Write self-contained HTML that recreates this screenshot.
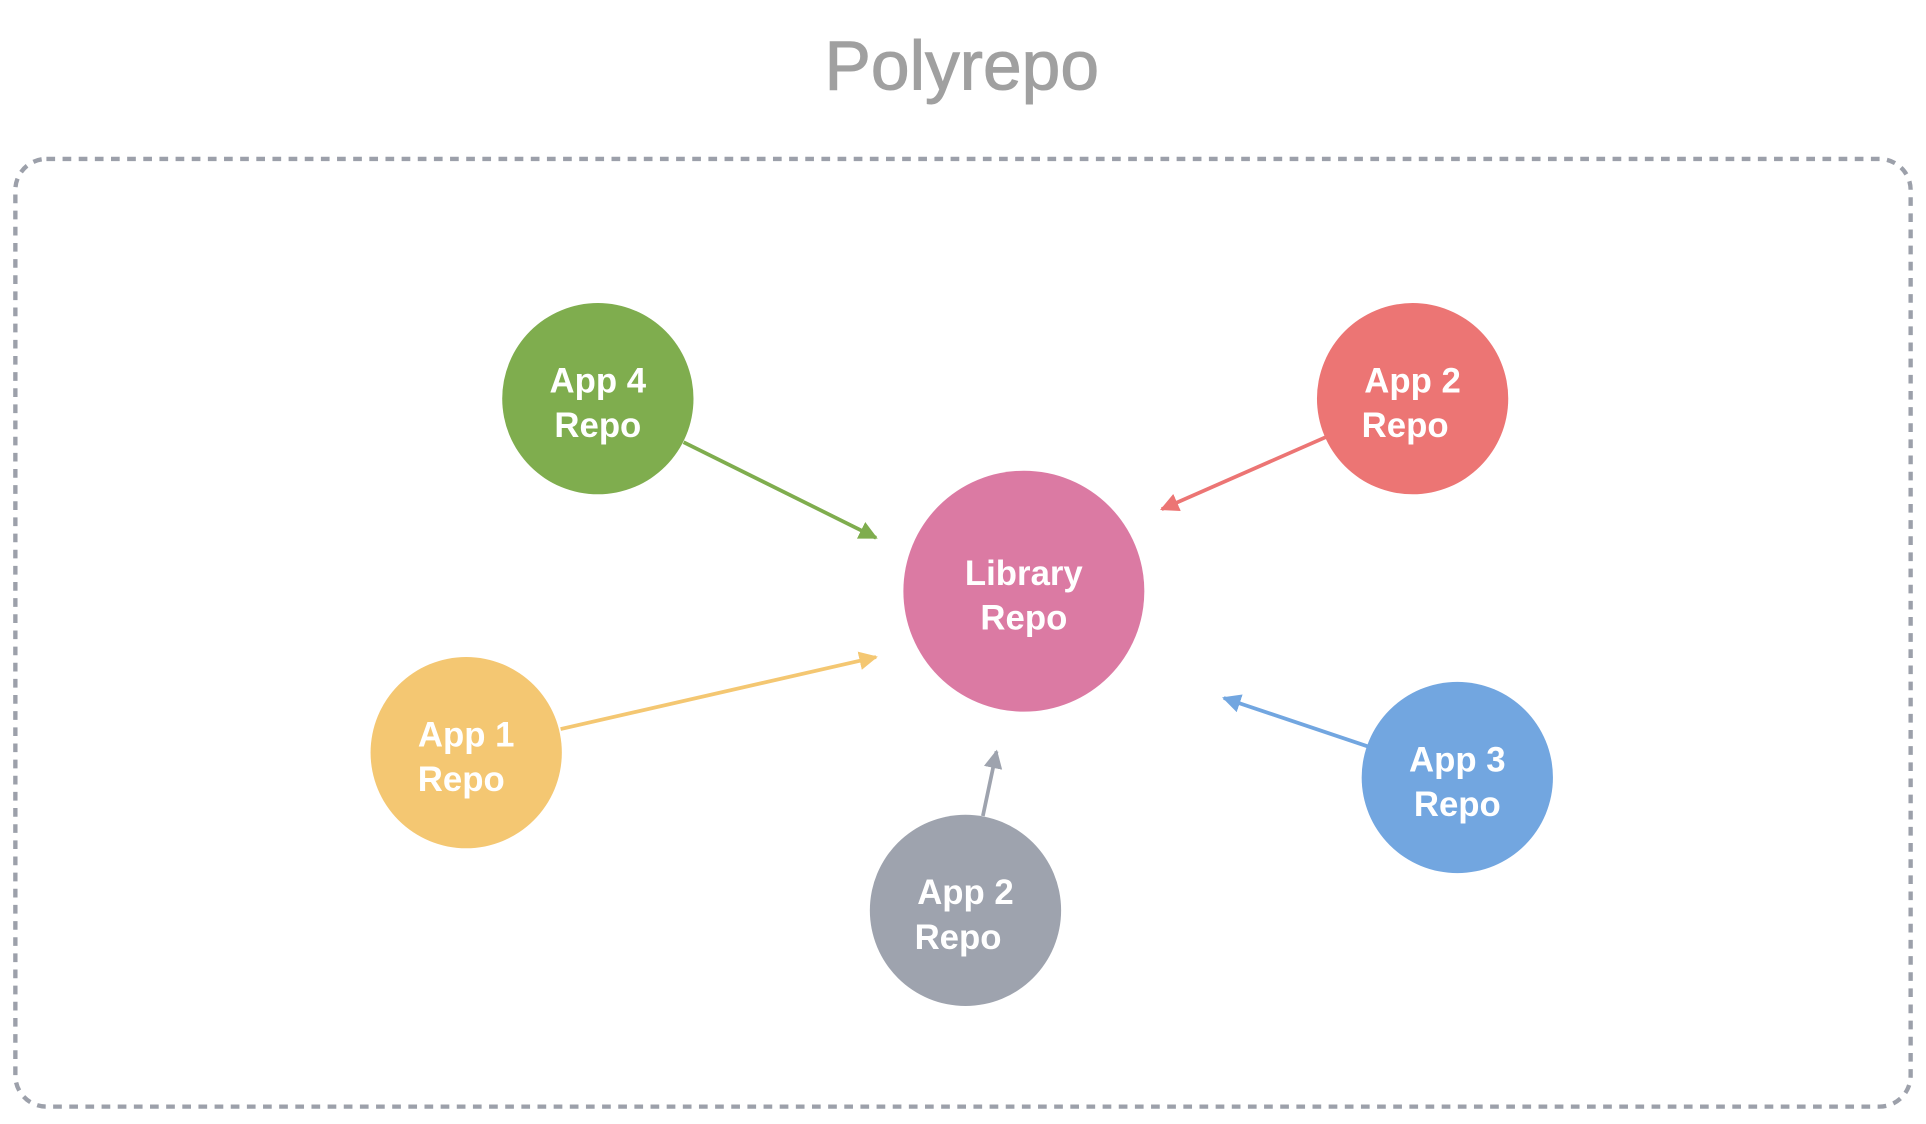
<!DOCTYPE html>
<html><head><style>html,body{margin:0;padding:0;background:#fff;}svg{display:block}</style></head>
<body>
<svg width="1926" height="1124" viewBox="0 0 1550 905" xmlns="http://www.w3.org/2000/svg" font-family="Liberation Sans, sans-serif">
<defs>
<marker id="g" viewBox="0 0 10 10" refX="9" refY="5" markerWidth="5" markerHeight="5" orient="auto"><path d="M0,0L10,5L0,10z" fill="#7fad4e"/></marker>
<marker id="r" viewBox="0 0 10 10" refX="9" refY="5" markerWidth="5" markerHeight="5" orient="auto"><path d="M0,0L10,5L0,10z" fill="#ec7574"/></marker>
<marker id="y" viewBox="0 0 10 10" refX="9" refY="5" markerWidth="5" markerHeight="5" orient="auto"><path d="M0,0L10,5L0,10z" fill="#f4c772"/></marker>
<marker id="k" viewBox="0 0 10 10" refX="9" refY="5" markerWidth="5" markerHeight="5" orient="auto"><path d="M0,0L10,5L0,10z" fill="#9ea3ae"/></marker>
<marker id="b" viewBox="0 0 10 10" refX="9" refY="5" markerWidth="5" markerHeight="5" orient="auto"><path d="M0,0L10,5L0,10z" fill="#72a6e0"/></marker>
</defs>
<text x="774" y="72" text-anchor="middle" font-size="56" fill="#a0a0a0" stroke="#a0a0a0" stroke-width="0.8">Polyrepo</text>
<rect x="12" y="128" width="1526" height="763" rx="25" fill="none" stroke="#9ca0aa" stroke-width="3.5" stroke-dasharray="7 6"/>
<g stroke-width="3">
<line x1="550" y1="356" x2="705" y2="433" stroke="#7fad4e" marker-end="url(#g)"/>
<line x1="1067" y1="352" x2="935" y2="410" stroke="#ec7574" marker-end="url(#r)"/>
<line x1="451" y1="587" x2="705" y2="529" stroke="#f4c772" marker-end="url(#y)"/>
<line x1="791" y1="657" x2="802" y2="605" stroke="#9ea3ae" marker-end="url(#k)"/>
<line x1="1101" y1="601" x2="985" y2="562" stroke="#72a6e0" marker-end="url(#b)"/>
</g>
<circle cx="481" cy="321" r="77" fill="#7fad4e"/>
<circle cx="1137" cy="321" r="77" fill="#ec7574"/>
<circle cx="824" cy="476" r="97" fill="#db7aa3"/>
<circle cx="375" cy="606" r="77" fill="#f4c772"/>
<circle cx="777" cy="733" r="77" fill="#9ea3ae"/>
<circle cx="1173" cy="626" r="77" fill="#72a6e0"/>
<g fill="#fff" font-size="28" font-weight="bold" text-anchor="middle">
<text x="481" y="316">App 4</text><text x="481" y="352">Repo</text>
<text x="1137" y="316">App 2</text><text x="1131" y="352">Repo</text>
<text x="824" y="471">Library</text><text x="824" y="507">Repo</text>
<text x="375" y="601">App 1</text><text x="371" y="637">Repo</text>
<text x="777" y="728">App 2</text><text x="771" y="764">Repo</text>
<text x="1173" y="621">App 3</text><text x="1173" y="657">Repo</text>
</g>
</svg>
</body></html>
